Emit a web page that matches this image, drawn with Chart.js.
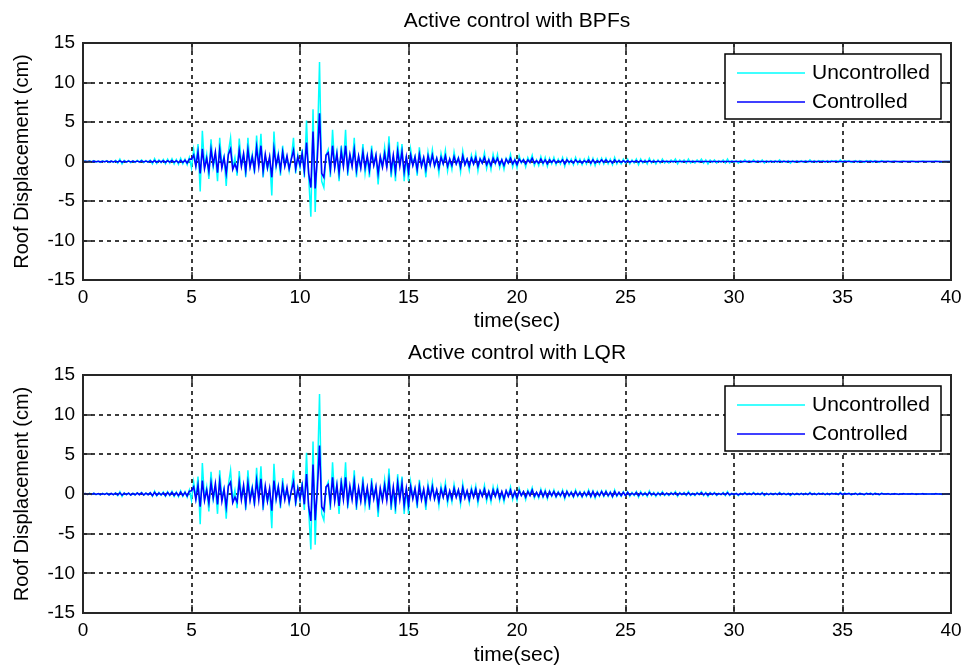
<!DOCTYPE html>
<html>
<head>
<meta charset="utf-8">
<title>Roof displacement - active control</title>
<script src="https://cdn.jsdelivr.net/npm/chart.js@4.4.1/dist/chart.umd.min.js"></script>
<style>
  html, body { margin: 0; padding: 0; background: #fff; }
  body { width: 969px; height: 669px; position: relative; overflow: hidden; }
  .panel { position: absolute; left: 0; width: 969px; }
  #bpfPanel { top: 0; height: 332px; }
  #lqrPanel { top: 332px; height: 334px; }
</style>
</head>
<body>
<div class="panel" id="bpfPanel"><canvas id="bpfChart"></canvas></div>
<div class="panel" id="lqrPanel"><canvas id="lqrChart"></canvas></div>
<script>
// sample step of the records (sec), one row below = one second
const timeStep = 0.1;
const xTicks = [0, 5, 10, 15, 20, 25, 30, 35, 40];
const yTicks = [-15, -10, -5, 0, 5, 10, 15];
const seriesNames = ['Uncontrolled', 'Controlled'];
const plotTitles = ['Active control with BPFs', 'Active control with LQR'];

// roof displacement, uncontrolled (cm)
const uncontrolled = [
  0, 0.05, -0.05, 0.08, -0.06, 0.1, -0.08, 0.06, -0.1, 0.08,
  -0.05, 0.1, -0.12, 0.08, -0.1, 0.15, -0.2, 0.3, -0.3, 0.15,
  -0.1, 0.12, -0.15, 0.1, -0.12, 0.15, -0.1, 0.2, -0.15, 0.12,
  -0.1, 0.2, -0.3, 0.35, -0.25, 0.2, -0.15, 0.25, -0.3, 0.3,
  -0.2, 0.35, -0.3, 0.25, -0.35, 0.4, -0.3, 0.3, -0.4, 0.5,
  -0.8, 1.5, -0.5, 2.2, -3.8, 3.9, -0.6, 0.9, -2.2, 2.8,
  -0.7, 0.8, -2.5, 3.0, -0.5, 0.6, -3.1, 1.2, 3.0, -0.8,
  0.5, -1.8, 2.9, -0.4, 0.8, -2.0, 3.0, -0.6, 0.9, -1.5,
  3.3, -0.5, 3.5, -2.0, 0.6, -0.9, 0.5, -4.3, 3.8, -0.7,
  1.0, -1.8, 2.0, -0.5, 0.6, -1.2, 0.4, 3.0, -1.5, 0.8,
  -0.8, 1.5, -2.0, 5.2, -2.0, -7.0, 6.6, -6.4, 2.0, 12.6,
  -2.5, -3.3, 0.8, 1.5, -2.0, 4.0, -0.6, 1.2, -2.5, 2.0,
  -0.5, 4.0, -1.8, 0.7, -0.5, 3.0, -2.0, 0.6, -0.8, 2.2,
  -1.5, 0.6, -2.0, 2.0, -0.4, 0.8, -2.9, 0.5, -0.6, 1.8,
  -0.8, 3.2, -2.0, 0.6, -2.5, 2.5, -0.5, 2.2, -2.5, 0.7,
  -2.5, 1.5, -0.4, 0.6, -1.8, 1.8, -0.5, 0.4, -2.0, 1.2,
  -0.4, 1.5, -0.6, 0.4, -1.5, 1.0, -0.3, 1.4, -1.2, 0.3,
  -1.0, 1.2, -0.3, 0.5, -1.3, 1.3, -0.4, 0.3, -1.1, 0.8,
  -0.3, 1.0, -1.2, 0.4, -0.2, 1.1, -0.9, 0.3, -1.0, 0.9,
  -0.3, 0.9, -0.8, 0.2, -1.0, 0.4, -0.2, 0.9, -0.7, 0.3,
  -0.8, 0.7, -0.2, 0.3, -0.7, 0.5, -0.1, 0.8, -0.5, 0.2,
  -0.5, 0.6, -0.4, 0.5, -0.6, 0.4, -0.3, 0.5, -0.4, 0.3,
  -0.3, 0.5, -0.6, 0.4, -0.3, 0.3, -0.4, 0.5, -0.3, 0.3,
  -0.4, 0.3, -0.3, 0.5, -0.4, 0.4, -0.5, 0.3, -0.3, 0.4,
  -0.3, 0.4, -0.3, 0.3, -0.4, 0.5, -0.3, 0.2, -0.3, 0.3,
  -0.2, 0.3, -0.3, 0.2, -0.2, 0.3, -0.4, 0.3, -0.2, 0.2,
  -0.3, 0.4, -0.2, 0.2, -0.3, 0.2, -0.2, 0.3, -0.2, 0.1,
  -0.2, 0.2, -0.1, 0.3, -0.3, 0.2, -0.1, 0.2, -0.2, 0.3,
  -0.2, 0.1, -0.2, 0.2, -0.1, 0.3, -0.2, 0.2, -0.3, 0.2,
  -0.1, 0.2, -0.2, 0.1, -0.1, 0.2, -0.2, 0.3, -0.2, 0.1,
  -0.1, 0.1, -0.2, 0.1, -0.1, 0.2, -0.1, 0.1, -0.1, 0.2,
  -0.1, 0.1, -0.1, 0.2, -0.2, 0.1, -0.1, 0.1, -0.1, 0.1,
  -0.1, 0.2, -0.1, 0.1, -0.1, 0.1, -0.2, 0.1, -0.1, 0.1,
  -0.1, 0.1, -0.1, 0.1, -0.1, 0.2, -0.1, 0.1, -0.1, 0.1,
  0, 0.1, -0.1, 0.1, -0.1, 0.1, 0, 0.1, -0.1, 0.2,
  -0.1, 0.1, 0, 0.1, -0.1, 0, 0.1, -0.1, 0.1, 0,
  -0.1, 0.1, 0, 0.1, -0.1, 0.1, 0, -0.1, 0.1, 0,
  0, 0.05, -0.05, 0, 0.05, 0, -0.05, 0, 0.05, 0,
  0, 0, 0.05, 0, -0.05, 0, 0, 0.05, 0, 0,
  0, 0, 0, 0.05, 0, 0, -0.05, 0, 0, 0,
  0
];

// roof displacement with band-pass filter control (cm)
const controlledBPF = [
  0, 0.02, -0.02, 0.03, -0.03, 0.04, -0.03, 0.03, -0.04, 0.03,
  -0.03, 0.05, -0.05, 0.04, -0.05, 0.06, -0.08, 0.1, -0.1, 0.06,
  -0.05, 0.05, -0.06, 0.05, -0.05, 0.06, -0.05, 0.08, -0.06, 0.05,
  -0.05, 0.08, -0.1, 0.12, -0.1, 0.08, -0.06, 0.1, -0.12, 0.1,
  -0.08, 0.12, -0.1, 0.1, -0.15, 0.15, -0.12, 0.15, -0.2, 0.3,
  0.3, 0.8, -0.6, 1.2, -1.5, 1.6, -0.9, 0.4, -1.2, 1.5,
  -0.4, 1.2, -1.4, 1.5, -0.8, 0.5, -1.5, 0.9, 1.6, -1.0,
  -0.3, -1.1, 1.4, -0.6, 1.0, -1.2, 1.5, -0.7, 0.6, -1.0,
  1.8, -0.6, 2.0, -1.2, 0.9, -0.8, 0.6, -2.0, 1.6, -0.5,
  0.8, -1.0, 1.2, -0.6, 0.7, -0.9, 0.3, 1.4, -0.9, 0.6,
  -0.5, 1.0, -1.2, 2.4, -1.5, -3.3, 3.8, -3.4, 0.5, 6.1,
  -1.5, -2.0, 0.8, 1.1, -1.0, 2.0, -0.8, 1.0, -1.4, 1.3,
  -0.6, 2.0, -1.0, 0.9, -0.6, 1.5, -1.1, 0.7, -0.8, 1.2,
  -0.8, 0.7, -1.1, 1.1, -0.5, 0.8, -1.5, 0.6, -0.7, 1.0,
  -0.7, 1.6, -1.1, 0.8, -1.3, 1.3, -0.6, 1.2, -1.3, 0.6,
  -1.3, 0.8, -0.5, 0.6, -1.0, 0.9, -0.6, 0.5, -1.0, 0.7,
  -0.4, 0.8, -0.5, 0.4, -0.8, 0.5, -0.3, 0.7, -0.6, 0.3,
  -0.5, 0.6, -0.3, 0.4, -0.7, 0.7, -0.4, 0.3, -0.6, 0.4,
  -0.3, 0.5, -0.6, 0.3, -0.2, 0.5, -0.4, 0.2, -0.5, 0.4,
  -0.2, 0.4, -0.4, 0.2, -0.5, 0.3, -0.2, 0.4, -0.3, 0.2,
  -0.4, 0.3, -0.1, 0.2, -0.3, 0.2, -0.1, 0.4, -0.2, 0.1,
  -0.2, 0.3, -0.2, 0.2, -0.3, 0.2, -0.1, 0.2, -0.2, 0.1,
  -0.1, 0.2, -0.3, 0.2, -0.1, 0.1, -0.2, 0.2, -0.1, 0.1,
  -0.2, 0.1, -0.1, 0.2, -0.2, 0.2, -0.2, 0.1, -0.1, 0.2,
  -0.1, 0.2, -0.1, 0.1, -0.2, 0.2, -0.1, 0.1, -0.1, 0.1,
  -0.1, 0.1, -0.1, 0.05, -0.05, 0.1, -0.1, 0.1, -0.05, 0.05,
  -0.05, 0.1, -0.05, 0.05, -0.05, 0.05, -0.05, 0.05, 0, 0,
  0, 0, 0, 0, 0, 0, 0, 0, 0, 0,
  0, 0, 0, 0, 0, 0, 0, 0, 0, 0,
  0, 0, 0, 0, 0, 0, 0, 0, 0, 0,
  0, 0, 0, 0, 0, 0, 0, 0, 0, 0,
  0, 0, 0, 0, 0, 0, 0, 0, 0, 0,
  0, 0, 0, 0, 0, 0, 0, 0, 0, 0,
  0, 0, 0, 0, 0, 0, 0, 0, 0, 0,
  0, 0, 0, 0, 0, 0, 0, 0, 0, 0,
  0, 0, 0, 0, 0, 0, 0, 0, 0, 0,
  0, 0, 0, 0, 0, 0, 0, 0, 0, 0,
  0, 0, 0, 0, 0, 0, 0, 0, 0, 0,
  0, 0, 0, 0, 0, 0, 0, 0, 0, 0,
  0, 0, 0, 0, 0, 0, 0, 0, 0, 0,
  0
];

// roof displacement with LQR control (cm)
const controlledLQR = [
  0, 0.05, -0.04, 0.06, -0.05, 0.08, -0.06, 0.05, -0.08, 0.06,
  -0.05, 0.08, -0.1, 0.06, -0.08, 0.1, -0.12, 0.15, -0.15, 0.1,
  -0.08, 0.1, -0.12, 0.08, -0.1, 0.12, -0.08, 0.15, -0.12, 0.1,
  -0.08, 0.15, -0.2, 0.2, -0.15, 0.12, -0.1, 0.15, -0.2, 0.18,
  -0.12, 0.2, -0.18, 0.15, -0.2, 0.25, -0.2, 0.2, -0.25, 0.35,
  0.4, 0.9, -0.7, 1.1, -1.6, 1.7, -0.8, 0.5, -1.1, 1.4,
  -0.5, 1.3, -1.3, 1.6, -0.9, 0.6, -1.6, 1.0, 1.5, -1.1,
  -0.4, -1.0, 1.5, -0.7, 1.1, -1.3, 1.4, -0.8, 0.7, -1.1,
  1.7, -0.7, 1.9, -1.3, 1.0, -0.9, 0.7, -2.1, 1.7, -0.6,
  0.9, -1.1, 1.1, -0.7, 0.8, -1.0, 0.4, 1.5, -1.0, 0.7,
  -0.6, 1.1, -1.3, 2.5, -1.6, -3.4, 3.7, -3.3, 0.6, 6.1,
  -1.6, -2.1, 0.9, 1.2, -1.1, 2.1, -0.9, 1.1, -1.5, 1.4,
  -0.7, 2.1, -1.1, 1.0, -0.7, 1.6, -1.2, 0.8, -0.9, 1.3,
  -0.9, 0.8, -1.2, 1.2, -0.6, 0.9, -1.6, 0.7, -0.8, 1.1,
  -0.8, 1.7, -1.2, 0.9, -1.4, 1.4, -0.7, 1.3, -1.4, 0.7,
  -1.4, 0.9, -0.6, 0.7, -1.1, 1.0, -0.7, 0.6, -1.1, 0.8,
  -0.5, 0.9, -0.6, 0.5, -0.9, 0.6, -0.4, 0.8, -0.7, 0.4,
  -0.6, 0.7, -0.4, 0.5, -0.8, 0.8, -0.5, 0.4, -0.7, 0.5,
  -0.4, 0.6, -0.7, 0.4, -0.3, 0.6, -0.5, 0.3, -0.6, 0.5,
  -0.3, 0.5, -0.5, 0.3, -0.6, 0.4, -0.3, 0.5, -0.4, 0.3,
  -0.5, 0.4, -0.2, 0.3, -0.4, 0.3, -0.2, 0.5, -0.3, 0.2,
  -0.3, 0.4, -0.3, 0.3, -0.4, 0.3, -0.2, 0.3, -0.3, 0.2,
  -0.2, 0.3, -0.4, 0.3, -0.2, 0.2, -0.3, 0.3, -0.2, 0.2,
  -0.3, 0.2, -0.2, 0.3, -0.3, 0.3, -0.3, 0.2, -0.2, 0.3,
  -0.2, 0.3, -0.2, 0.2, -0.3, 0.3, -0.2, 0.2, -0.2, 0.2,
  -0.2, 0.2, -0.15, 0.1, -0.1, 0.2, -0.2, 0.15, -0.1, 0.1,
  -0.15, 0.2, -0.1, 0.1, -0.15, 0.1, -0.1, 0.15, -0.1, 0.1,
  -0.1, 0.1, -0.05, 0.15, -0.15, 0.1, -0.05, 0.1, -0.1, 0.15,
  -0.1, 0.05, -0.1, 0.1, -0.05, 0.15, -0.1, 0.1, -0.15, 0.1,
  -0.05, 0.1, -0.1, 0.05, -0.05, 0.1, -0.1, 0.15, -0.1, 0.05,
  -0.05, 0.05, -0.1, 0.05, -0.05, 0.1, -0.05, 0.05, -0.05, 0.1,
  -0.05, 0.05, -0.05, 0.1, -0.1, 0.05, -0.05, 0.05, -0.05, 0.05,
  -0.05, 0.1, -0.05, 0.05, -0.05, 0.05, -0.1, 0.05, -0.05, 0.05,
  -0.05, 0.05, -0.05, 0.05, -0.05, 0.1, -0.05, 0.05, -0.05, 0.05,
  0, 0.05, -0.05, 0.05, -0.05, 0.05, 0, 0.05, -0.05, 0.1,
  -0.05, 0.05, 0, 0.05, -0.05, 0, 0.05, -0.05, 0.05, 0,
  -0.05, 0.05, 0, 0.05, -0.05, 0.05, 0, -0.05, 0.05, 0,
  0, 0.03, -0.03, 0, 0.03, 0, -0.03, 0, 0.03, 0,
  0, 0, 0.03, 0, -0.03, 0, 0, 0.03, 0, 0,
  0, 0, 0, 0.03, 0, 0, -0.03, 0, 0, 0,
  0
];

const FONT = '"Liberation Sans", Arial, Helvetica, sans-serif';
const UNCTRL_COLOR = '#00ffff';
const CTRL_COLOR = '#0000ff';
const FRAME_COLOR = '#262626';

function toPoints(values) {
  return values.map((v, i) => ({ x: Math.round(i * timeStep * 10) / 10, y: v }));
}

// frame, inner ticks, title and boxed legend the way matlab draws them
const matlabDecor = {
  id: 'matlabDecor',
  afterDraw(chart, args, opts) {
    const { ctx, chartArea: a, scales: { x, y } } = chart;
    ctx.save();

    ctx.strokeStyle = FRAME_COLOR;
    ctx.lineWidth = 1.5;
    ctx.beginPath();
    xTicks.forEach(v => {
      const px = Math.round(x.getPixelForValue(v));
      ctx.moveTo(px, a.bottom); ctx.lineTo(px, a.bottom - 8);
      ctx.moveTo(px, a.top); ctx.lineTo(px, a.top + 8);
    });
    yTicks.forEach(v => {
      const py = Math.round(y.getPixelForValue(v));
      ctx.moveTo(a.left, py); ctx.lineTo(a.left + 9, py);
      ctx.moveTo(a.right, py); ctx.lineTo(a.right - 9, py);
    });
    ctx.stroke();

    ctx.lineWidth = 2;
    ctx.strokeRect(a.left, a.top, a.right - a.left, a.bottom - a.top);

    // title centred over the axes
    ctx.fillStyle = '#000';
    ctx.font = '21px ' + FONT;
    ctx.textAlign = 'center';
    ctx.textBaseline = 'alphabetic';
    ctx.fillText(opts.title, (a.left + a.right) / 2, a.top - 16);

    // legend box, top right inside the axes
    const bx = a.right - 226, by = a.top + 11, bw = 216, bh = 65;
    ctx.fillStyle = '#fff';
    ctx.fillRect(bx, by, bw, bh);
    ctx.lineWidth = 1.5;
    ctx.strokeStyle = '#000';
    ctx.strokeRect(bx, by, bw, bh);
    ctx.textAlign = 'left';
    ctx.textBaseline = 'middle';
    chart.data.datasets.forEach((ds, i) => {
      const ry = by + 19 + i * 29;
      ctx.strokeStyle = ds.borderColor;
      ctx.lineWidth = 1.5;
      ctx.beginPath();
      ctx.moveTo(bx + 12, ry);
      ctx.lineTo(bx + 80, ry);
      ctx.stroke();
      ctx.fillStyle = '#000';
      ctx.fillText(ds.label, bx + 87, ry);
    });
    ctx.restore();
  }
};

function makeChart(canvasId, title, controlled, plotHeight, boxHeight) {
  const ctx = document.getElementById(canvasId).getContext('2d');
  return new Chart(ctx, {
    type: 'line',
    data: {
      datasets: [{
        label: seriesNames[0],
        data: toPoints(uncontrolled),
        borderColor: UNCTRL_COLOR,
        borderWidth: 1.5,
        pointRadius: 0,
        tension: 0,
        order: 2
      }, {
        label: seriesNames[1],
        data: toPoints(controlled),
        borderColor: CTRL_COLOR,
        borderWidth: 1.6,
        pointRadius: 0,
        tension: 0,
        order: 1
      }]
    },
    options: {
      responsive: true,
      maintainAspectRatio: false,
      animation: false,
      events: [],
      layout: { padding: { top: 43, right: 18, left: 0, bottom: 0 } },
      plugins: {
        legend: { display: false },
        tooltip: { enabled: false },
        title: { display: false },
        matlabDecor: { title: title }
      },
      scales: {
        x: {
          type: 'linear',
          min: 0,
          max: 40,
          afterFit: s => { s.height = boxHeight - 43 - plotHeight; },
          afterBuildTicks: s => { s.ticks = xTicks.map(v => ({ value: v })); },
          grid: { color: '#3c3c3c', lineWidth: 2, drawTicks: false },
          border: { display: false, dash: [4, 4] },
          ticks: {
            maxRotation: 0,
            autoSkip: false,
            padding: 6,
            color: '#000',
            font: { family: FONT, size: 19 }
          },
          title: {
            display: true,
            text: 'time(sec)',
            color: '#000',
            padding: { top: 0, bottom: 0 },
            font: { family: FONT, size: 21, lineHeight: 1 }
          }
        },
        y: {
          min: -15,
          max: 15,
          afterFit: s => { s.width = 83; },
          afterBuildTicks: s => { s.ticks = yTicks.map(v => ({ value: v })); },
          grid: { color: '#3c3c3c', lineWidth: 2, drawTicks: false },
          border: { display: false, dash: [4, 4] },
          ticks: {
            padding: 8,
            color: '#000',
            font: { family: FONT, size: 19 }
          },
          title: {
            display: true,
            text: 'Roof Displacement (cm)',
            color: '#000',
            padding: { top: 10, bottom: 0 },
            font: { family: FONT, size: 20 }
          }
        }
      }
    },
    plugins: [matlabDecor]
  });
}

makeChart('bpfChart', plotTitles[0], controlledBPF, 237, 332);
makeChart('lqrChart', plotTitles[1], controlledLQR, 238, 334);
</script>
</body>
</html>
